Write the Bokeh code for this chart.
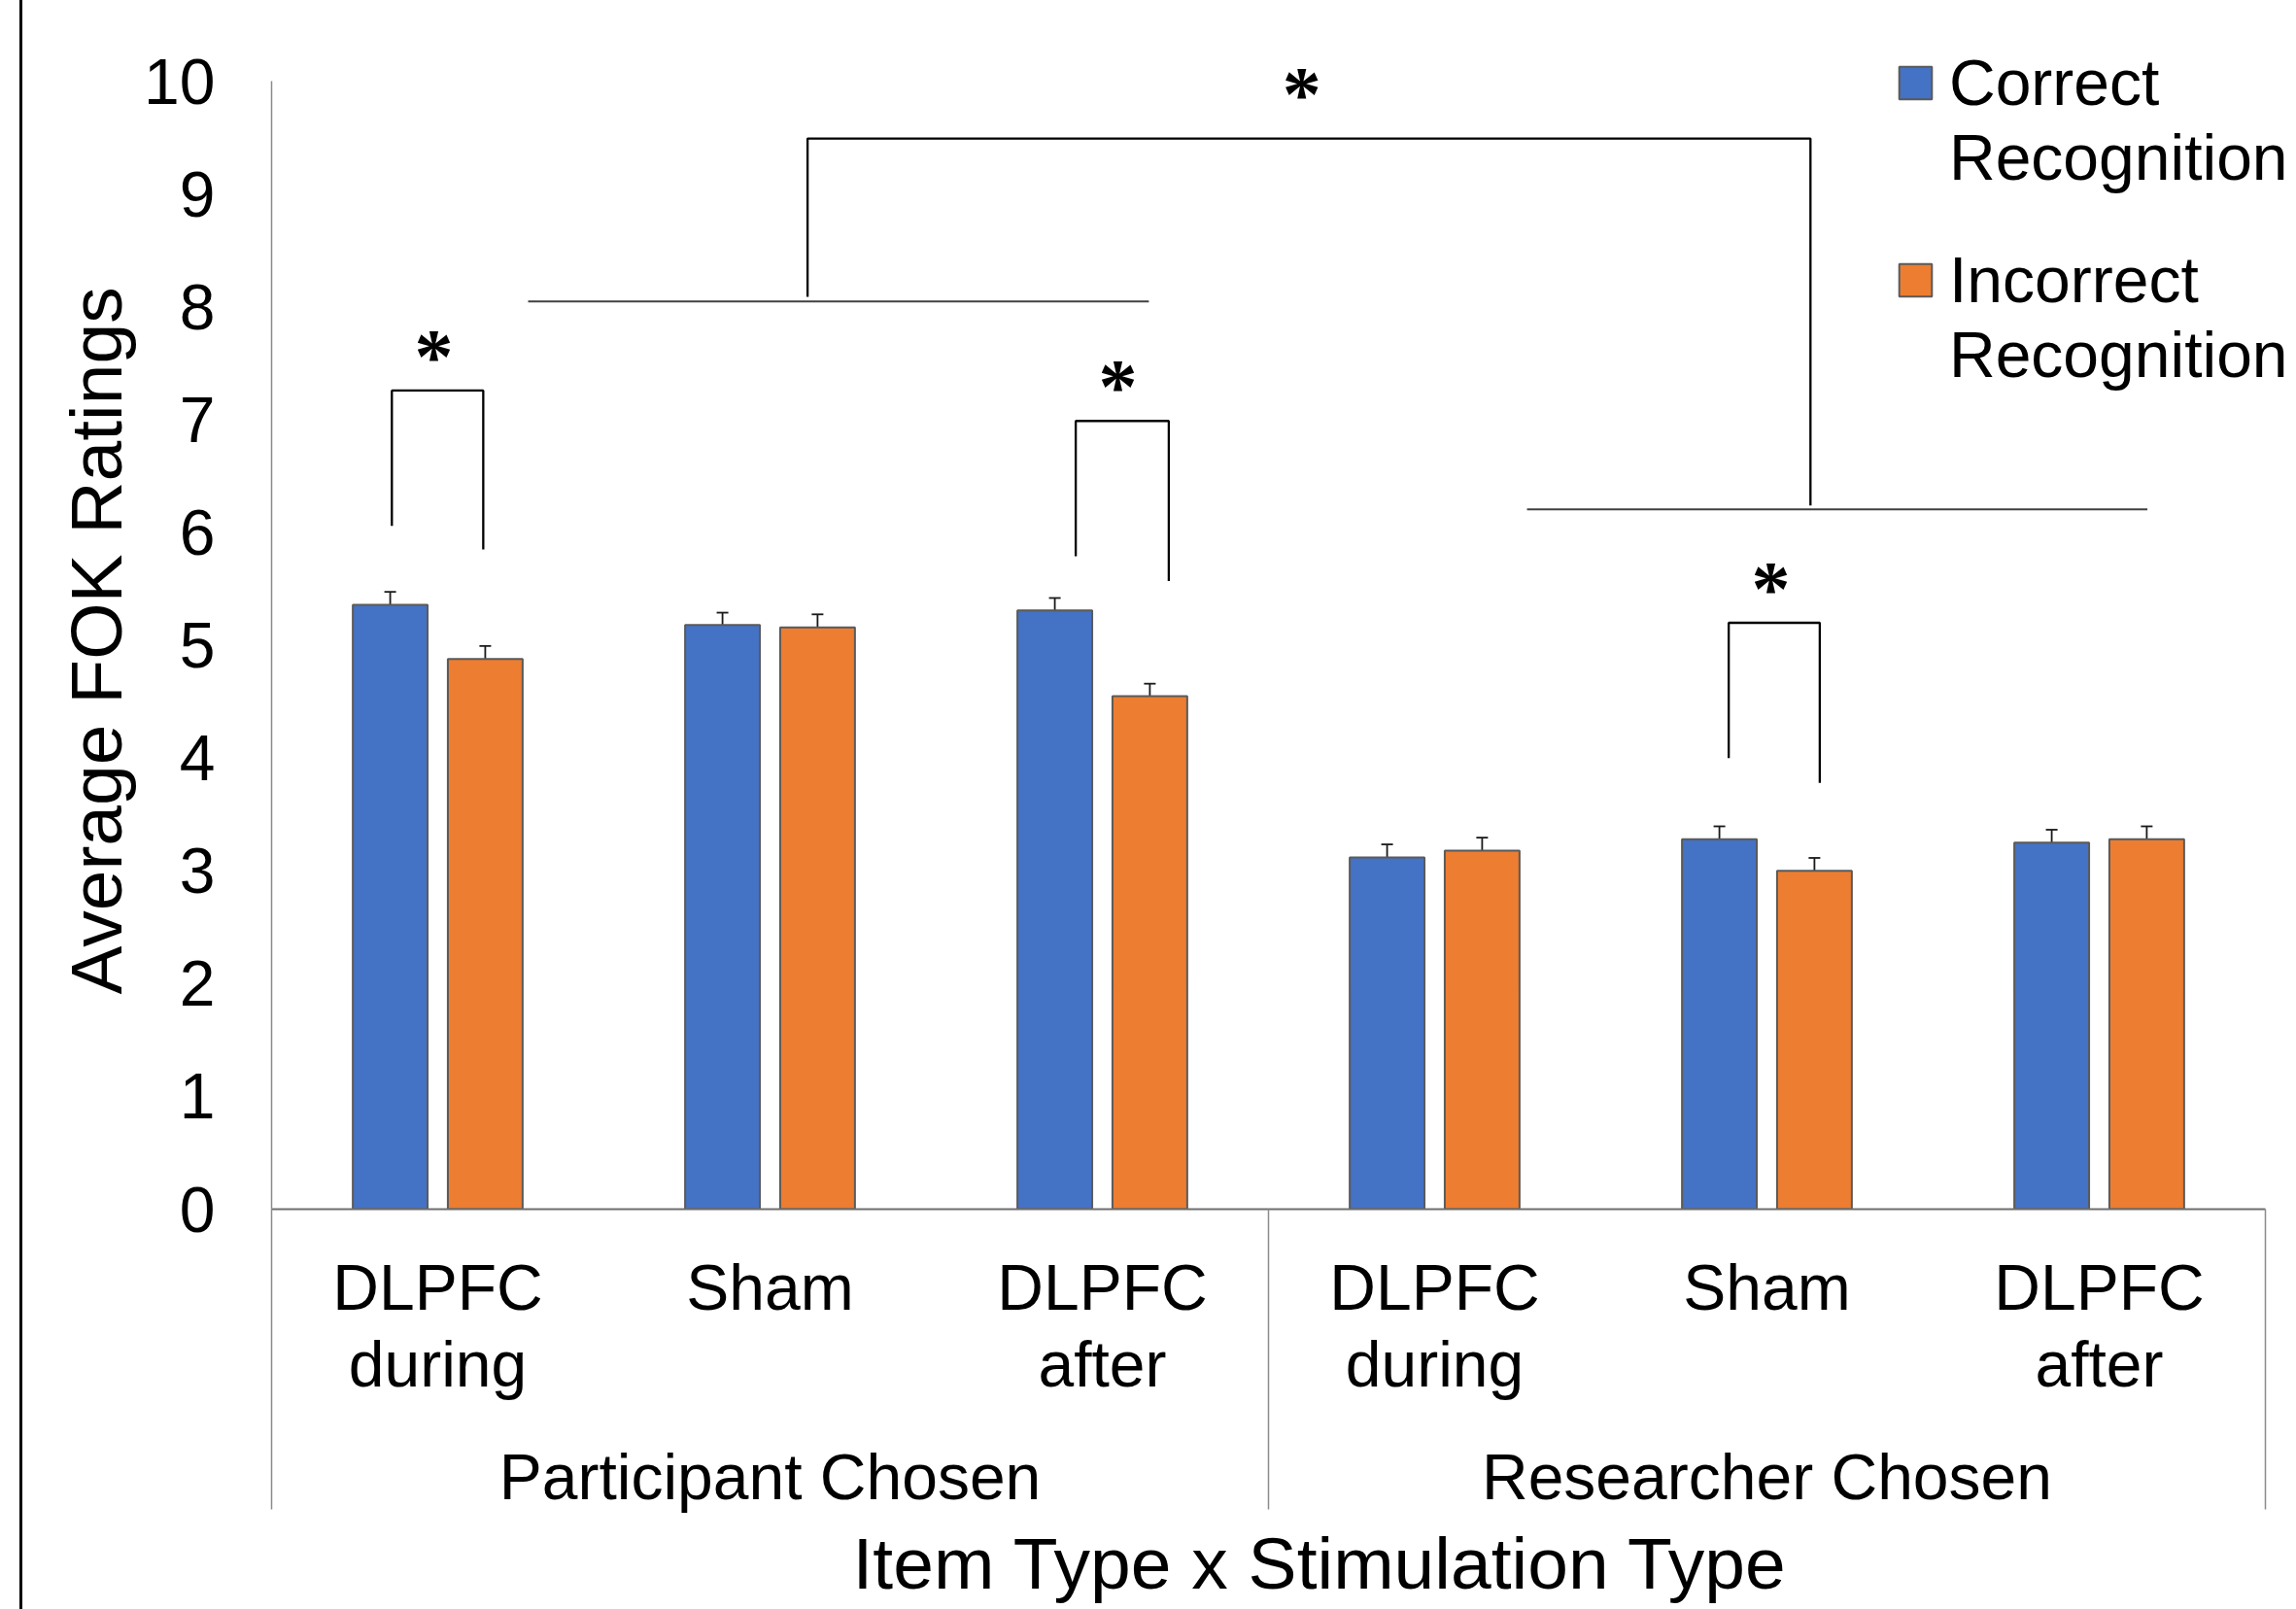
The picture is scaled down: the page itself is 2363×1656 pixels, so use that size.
from bokeh.plotting import figure
from bokeh.models import (ColumnDataSource, Range1d, LinearAxis, FixedTicker, Whisker, TeeHead,
                          Legend, LegendItem, Title, LabelSet, Div, Spacer)
from bokeh.core.properties import value
from bokeh.layouts import row
from bokeh.embed import file_html
from bokeh.resources import INLINE
import numpy as np

# ---------------- data ----------------
groups = ["Participant Chosen", "Researcher Chosen"]
conditions = ["DLPFC\nduring", "Sham", "DLPFC\nafter"]
correct = [5.36, 5.18, 5.31, 3.12, 3.28, 3.25]
incorrect = [4.88, 5.16, 4.55, 3.18, 3.00, 3.28]
correct_err = [0.115, 0.11, 0.11, 0.115, 0.115, 0.115]
incorrect_err = [0.115, 0.115, 0.11, 0.115, 0.115, 0.115]
y_ticks = list(range(0, 11))

# significance annotations (x in category units, y in rating units)
bracket_xs = [[0.362, 0.362, 0.637, 0.637],
              [2.42, 2.42, 2.70, 2.70],
              [4.385, 4.385, 4.659, 4.659],
              [1.613, 1.613, 4.631, 4.631]]
bracket_ys = [[6.06, 7.26, 7.26, 5.85],
              [5.79, 6.99, 6.99, 5.57],
              [4.00, 5.20, 5.20, 3.78],
              [8.09, 9.495, 9.495, 6.24]]
group_line_x0 = [0.772, 3.778]
group_line_x1 = [2.64, 5.645]
group_line_y = [8.05, 6.205]
star_x = [0.488, 2.547, 4.512, 3.10]
star_y = [7.63, 7.36, 5.57, 9.96]

FONT = "Liberation Sans"
BLUE = "#4472C4"
ORANGE = "#ED7D31"

n = len(correct)
centers = np.arange(n) + 0.5
off = 0.143
bw = 0.225

src_c = ColumnDataSource(dict(x=centers - off, top=correct,
                              upper=np.array(correct) + np.array(correct_err),
                              lower=np.array(correct) - np.array(correct_err)))
src_i = ColumnDataSource(dict(x=centers + off, top=incorrect,
                              upper=np.array(incorrect) + np.array(incorrect_err),
                              lower=np.array(incorrect) - np.array(incorrect_err)))

p = figure(width=2340, height=1656, x_range=Range1d(0, 6.0936), y_range=Range1d(0, 10.4),
           x_axis_type=None, y_axis_type=None, toolbar_location=None, output_backend="svg",
           min_border_left=256, min_border_right=0, min_border_top=37, min_border_bottom=410)
p.outline_line_color = None
p.background_fill_color = "white"
p.border_fill_color = "white"

# y axis
yaxis = LinearAxis(ticker=FixedTicker(ticks=y_ticks), bounds=(0, 10))
yaxis.axis_line_color = "#8c8c8c"
yaxis.axis_line_width = 1.5
yaxis.major_tick_line_color = None
yaxis.major_tick_out = 0
yaxis.major_tick_in = 0
yaxis.minor_tick_line_color = None
yaxis.major_label_text_font = FONT
yaxis.major_label_text_font_size = "66px"
yaxis.major_label_text_color = "black"
yaxis.major_label_standoff = 58
p.add_layout(yaxis, "left")

# y axis title, centred on the 0-10 span of the axis
yt = Title(text="Average FOK Ratings", align="left", offset=221,
           text_font=FONT, text_font_size="75px", text_font_style="normal",
           text_color="black", standoff=10)
p.add_layout(yt, "left")

# x axis: condition labels + group separators (minor ticks, long)
SEP = 309
cat_ticks = [float(c) for c in centers]
cond_labels = conditions * len(groups)
xaxis = LinearAxis(ticker=FixedTicker(ticks=cat_ticks, minor_ticks=[0, 3, 6]),
                   major_label_overrides={t: l for t, l in zip(cat_ticks, cond_labels)},
                   bounds=(0, 6))
xaxis.axis_line_color = "#6e6e6e"
xaxis.axis_line_width = 2
xaxis.major_tick_line_color = None
xaxis.major_tick_out = 0
xaxis.major_tick_in = 0
xaxis.minor_tick_line_color = "#8c8c8c"
xaxis.minor_tick_line_width = 1.5
xaxis.minor_tick_out = SEP
xaxis.minor_tick_in = 0
xaxis.major_label_text_font = FONT
xaxis.major_label_text_font_size = "66px"
xaxis.major_label_text_line_height = 1.08
xaxis.major_label_text_color = "black"
xaxis.major_label_standoff = 43 - SEP
p.add_layout(xaxis, "below")

# group axis
gaxis = LinearAxis(ticker=FixedTicker(ticks=[1.5, 4.5]),
                   major_label_overrides={1.5: groups[0], 4.5: groups[1]})
gaxis.axis_line_color = None
gaxis.major_tick_line_color = None
gaxis.major_tick_out = 0
gaxis.major_tick_in = 0
gaxis.minor_tick_line_color = None
gaxis.major_label_text_font = FONT
gaxis.major_label_text_font_size = "66px"
gaxis.major_label_text_color = "black"
gaxis.major_label_standoff = 38
p.add_layout(gaxis, "below")

xt = Title(text="Item Type x Stimulation Type", align="left", offset=598,
           text_font=FONT, text_font_size="75px", text_font_style="normal",
           text_color="black", standoff=11)
p.add_layout(xt, "below")

# bars
r_c = p.vbar(x="x", top="top", width=bw, bottom=0, source=src_c,
             fill_color=BLUE, line_color="#5a5a5a", line_width=2)
r_i = p.vbar(x="x", top="top", width=bw, bottom=0, source=src_i,
             fill_color=ORANGE, line_color="#5a5a5a", line_width=2)

for s in (src_c, src_i):
    w = Whisker(source=s, base="x", upper="upper", lower="lower",
                line_color="#1a1a1a", line_width=1.8,
                upper_head=TeeHead(size=12, line_color="#1a1a1a", line_width=1.8),
                lower_head=TeeHead(size=12, line_color="#1a1a1a", line_width=1.8))
    p.add_layout(w)

# significance brackets
p.multi_line(xs=bracket_xs, ys=bracket_ys, line_color="black", line_width=2.3)
p.segment(x0=group_line_x0, y0=group_line_y, x1=group_line_x1, y1=group_line_y,
          line_color="#404040", line_width=2)
star_src = ColumnDataSource(dict(x=star_x, y=star_y, t=["*"] * len(star_x)))
stars = LabelSet(x="x", y="y", text="t", source=star_src, text_align="center",
                 text_baseline="middle", text_font=value("Liberation Serif"),
                 text_font_style="bold", text_font_size="80px", text_color="black",
                 y_offset=-8)
p.add_layout(stars)

# legends (two-line labels)
r_blank = p.scatter(x=[], y=[], size=0, fill_alpha=0, line_alpha=0)
common = dict(glyph_width=42, glyph_height=42, label_standoff=14,
              label_text_font=FONT, label_text_font_size="66px", label_text_color="black",
              spacing=1, padding=0, margin=0, border_line_color=None,
              background_fill_alpha=0)
leg1 = Legend(items=[LegendItem(label="Correct", renderers=[r_c]),
                     LegendItem(label="Recognition", renderers=[r_blank])],
              location=(1671, 1044), **common)
leg2 = Legend(items=[LegendItem(label="Incorrect", renderers=[r_i]),
                     LegendItem(label="Recognition", renderers=[r_blank])],
              location=(1671, 841), **common)
p.add_layout(leg1)
p.add_layout(leg2)

line_div = Div(text="", width=3, height=1656, margin=0,
               styles={"background-color": "black"})
layout = row(Spacer(width=20, height=1656, margin=0), line_div, p)

open("out.html", "w").write(file_html(layout, INLINE))
